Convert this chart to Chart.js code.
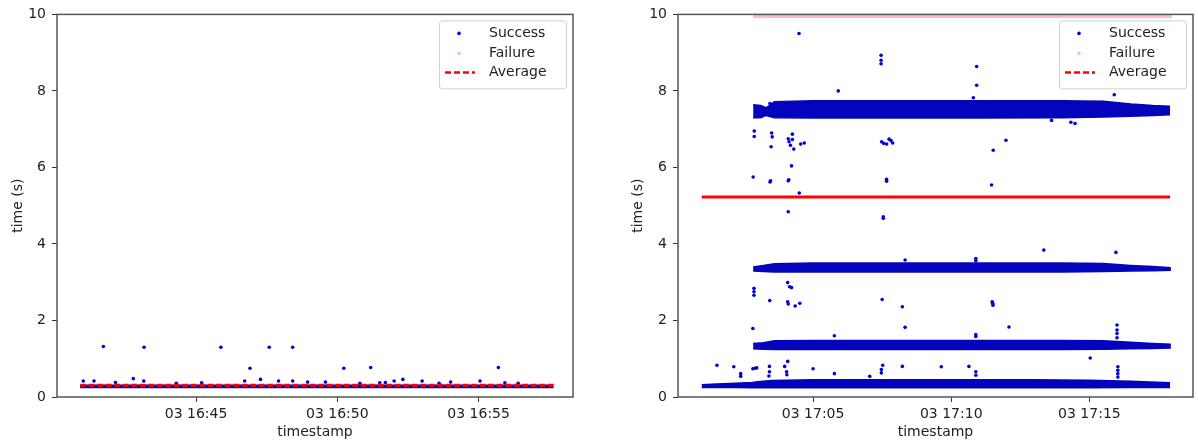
<!DOCTYPE html>
<html>
<head>
<meta charset="utf-8">
<script src="https://cdn.jsdelivr.net/npm/chart.js@4.4.1/dist/chart.umd.min.js"></script>
<style>
  body { margin: 0; background: #fff; }
  #wrap { position: relative; width: 1198px; height: 444px; }
  canvas { position: absolute; top: 0; }
</style>
</head>
<body>
<div id="wrap">
  <canvas id="leftChart" width="600" height="444" style="left:0"></canvas>
  <canvas id="rightChart" width="598" height="444" style="left:600px"></canvas>
</div>
<script>
// y axis (seconds)
const yTicks = [0, 2, 4, 6, 8, 10]

// ---- left panel, x in minutes after 16:00 ----
const leftTicks = [45, 50, 55]
const leftTickLabels = ['03 16:45', '03 16:50', '03 16:55']
const leftBandTime = [40.9, 57.65]
const leftBandLow = [0.25, 0.25]
const leftBandHigh = [0.31, 0.31]
const leftAvgTime = [40.9, 57.65]
const leftAvgValue = [0.31, 0.31]
const leftOutTime = [41.72, 43.16, 45.88, 47.59, 48.42, 46.91, 50.23, 51.18, 55.70,
                     41.01, 41.39, 42.78, 43.15, 47.28, 47.92, 48.42, 52.32, 53.00, 55.05, 46.72,
                     42.15, 48.95, 49.58, 52.01, 54.01, 55.93, 44.30, 45.20, 50.80, 51.50, 51.70, 53.60, 56.40]
const leftOutValue = [1.32, 1.30, 1.30, 1.30, 1.30, 0.75, 0.75, 0.77, 0.77,
                      0.42, 0.42, 0.48, 0.42, 0.46, 0.42, 0.42, 0.46, 0.42, 0.42, 0.42,
                      0.38, 0.39, 0.39, 0.42, 0.39, 0.37, 0.36, 0.37, 0.36, 0.37, 0.38, 0.36, 0.36]

// ---- right panel, x in minutes after 17:00 ----
const rightTicks = [5, 10, 15]
const rightTickLabels = ['03 17:05', '03 17:10', '03 17:15']

// dense clouds of successes, given as lower / upper edge
const bandATime = [0.97, 1.5, 2.2, 2.8, 3.0, 3.5, 5, 7, 9, 11, 13, 15, 16.5, 17.2, 17.92]
const bandALow = [0.25, 0.25, 0.25, 0.24, 0.24, 0.24, 0.24, 0.24, 0.24, 0.24, 0.24, 0.24, 0.25, 0.25, 0.25]
const bandAHigh = [0.32, 0.34, 0.36, 0.38, 0.40, 0.43, 0.45, 0.45, 0.45, 0.45, 0.45, 0.44, 0.41, 0.39, 0.37]

const bandBTime = [2.83, 3.2, 3.6, 5, 8, 11, 14, 15.5, 16.5, 17.3, 17.95]
const bandBLow = [1.26, 1.25, 1.24, 1.24, 1.24, 1.24, 1.24, 1.25, 1.26, 1.27, 1.28]
const bandBHigh = [1.40, 1.42, 1.47, 1.48, 1.48, 1.48, 1.48, 1.47, 1.43, 1.40, 1.38]

const bandCTime = [2.83, 3.2, 3.6, 5, 8, 11, 14, 15.5, 16.5, 17.3, 17.95]
const bandCLow = [3.29, 3.28, 3.27, 3.27, 3.27, 3.27, 3.27, 3.28, 3.29, 3.30, 3.31]
const bandCHigh = [3.40, 3.44, 3.48, 3.50, 3.50, 3.50, 3.50, 3.49, 3.44, 3.41, 3.38]

const bandDTime = [2.83, 3.1, 3.3, 3.6, 5, 8, 11, 14, 15.5, 16.5, 17.3, 17.92]
const bandDLow = [7.30, 7.30, 7.36, 7.30, 7.29, 7.29, 7.29, 7.30, 7.32, 7.34, 7.36, 7.38]
const bandDHigh = [7.64, 7.62, 7.56, 7.72, 7.74, 7.74, 7.74, 7.74, 7.73, 7.66, 7.62, 7.60]

// scattered successes
const highOutTime = [4.49, 7.46, 7.46, 7.46, 5.91, 10.92, 10.92, 10.80, 15.90, 13.63, 14.33, 14.48, 3.44,
                     2.87, 2.87, 3.50, 3.52, 3.48, 4.10, 4.13, 4.18, 4.25, 4.25, 4.30, 4.55, 4.68,
                     7.48, 7.55, 7.66, 7.75, 7.82, 7.88, 11.52, 11.98,
                     2.83, 3.44, 3.46, 4.10, 4.12, 4.22, 4.50, 7.66, 7.66, 11.46, 4.10, 7.54, 7.54]
const highOutValue = [9.50, 8.93, 8.80, 8.71, 8.00, 8.64, 8.15, 7.82, 7.90, 7.23, 7.18, 7.15, 7.67,
                      6.95, 6.81, 6.90, 6.80, 6.54, 6.75, 6.67, 6.58, 6.87, 6.73, 6.48, 6.61, 6.64,
                      6.67, 6.63, 6.61, 6.74, 6.70, 6.64, 6.45, 6.71,
                      5.75, 5.62, 5.65, 5.65, 5.68, 6.04, 5.33, 5.64, 5.69, 5.54, 4.84, 4.71, 4.67]
const lowOutTime = [2.86, 2.86, 2.86, 3.43, 4.08, 4.15, 4.22, 4.08, 4.10, 4.35, 4.52, 7.50, 8.23, 11.48, 11.51, 11.50,
                    8.33, 12.09, 2.82, 5.77, 10.89, 10.89, 16.00, 16.00, 16.00, 16.00, 15.03, 13.35, 15.96, 10.89, 10.89, 8.33,
                    1.52, 2.13, 2.82, 2.89, 2.96, 3.42, 3.42, 3.97, 4.08, 4.04, 5.00, 5.77, 7.52, 8.23, 9.64, 10.64,
                    7.47, 7.47, 2.38, 2.38, 16.03, 16.03, 16.03, 10.89, 10.89, 7.05, 3.40, 4.05, 16.03]
const lowOutValue = [2.84, 2.75, 2.66, 2.52, 2.99, 2.88, 2.86, 2.49, 2.43, 2.38, 2.45, 2.55, 2.36, 2.49, 2.40, 2.45,
                     1.82, 1.83, 1.79, 1.60, 1.63, 1.58, 1.88, 1.75, 1.66, 1.55, 1.02, 3.84, 3.78, 3.62, 3.56, 3.58,
                     0.83, 0.79, 0.74, 0.75, 0.76, 0.80, 0.66, 0.80, 0.93, 0.66, 0.74, 0.61, 0.83, 0.80, 0.79, 0.80,
                     0.72, 0.63, 0.61, 0.54, 0.79, 0.70, 0.61, 0.66, 0.57, 0.54, 0.55, 0.58, 0.52]

const failTime = [2.83, 17.98]
const failValue = [10, 10]
const rightAvgTime = [0.97, 17.92]
const rightAvgValue = [5.23, 5.23]

const BLUE = '#0000d8'
const BAND = '#0404bd'
const PINK = '#ffbcc6'
const RED = '#ff0000'

Chart.defaults.font.family = "'DejaVu Sans', sans-serif"
Chart.defaults.font.size = 14
Chart.defaults.color = '#222'

function pts(xs, ys) {
    return xs.map((x, i) => ({ x: x, y: ys[i] }))
}

function band(xs, lo, hi) {
    return [
        { data: pts(xs, hi), borderColor: BAND, borderWidth: 1.5, pointRadius: 0, fill: false, order: 5 },
        { data: pts(xs, lo), borderColor: BAND, borderWidth: 1.5, pointRadius: 0, backgroundColor: BAND, fill: '-1', order: 5 }
    ]
}

function dots(xs, ys, color) {
    return { data: pts(xs, ys), showLine: false, pointRadius: 1.8, pointBorderWidth: 0,
             pointBackgroundColor: color, order: 4 }
}

const framePlugin = {
    id: 'frame',
    afterDatasetsDraw(chart) {
        const { ctx, chartArea: a } = chart
        ctx.save()
        ctx.strokeStyle = '#555'
        ctx.lineWidth = 1.5
        ctx.strokeRect(a.left, a.top, a.right - a.left, a.bottom - a.top)
        ctx.restore()
    }
}

// matplotlib style legend box in the upper right corner
const boxLegend = {
    id: 'boxLegend',
    afterDraw(chart) {
        const { ctx, chartArea: a } = chart
        const w = 127, h = 68
        const left = a.right - 7 - w, top = a.top + 6
        ctx.save()
        ctx.fillStyle = 'rgba(255,255,255,0.85)'
        ctx.strokeStyle = '#d0d0d0'
        ctx.lineWidth = 1
        ctx.beginPath()
        ctx.roundRect(left + 0.5, top + 0.5, w, h, 3)
        ctx.fill()
        ctx.stroke()

        const rows = [top + 13, top + 33, top + 52]
        const mx = left + 20
        ctx.fillStyle = BLUE
        ctx.beginPath(); ctx.arc(mx, rows[0], 1.8, 0, Math.PI * 2); ctx.fill()
        ctx.fillStyle = PINK
        ctx.beginPath(); ctx.arc(mx, rows[1], 1.8, 0, Math.PI * 2); ctx.fill()
        ctx.strokeStyle = RED
        ctx.lineWidth = 2.5
        ctx.setLineDash([6, 3])
        ctx.beginPath(); ctx.moveTo(left + 6, rows[2]); ctx.lineTo(left + 36, rows[2]); ctx.stroke()
        ctx.setLineDash([])

        ctx.fillStyle = '#222'
        ctx.font = "14px 'DejaVu Sans', sans-serif"
        ctx.textBaseline = 'middle'
        const tx = left + 50
        ctx.fillText('Success', tx, rows[0])
        ctx.fillText('Failure', tx, rows[1])
        ctx.fillText('Average', tx, rows[2])
        ctx.restore()
    }
}

function makeChart(id, cfg) {
    return new Chart(document.getElementById(id), {
        type: 'line',
        data: { datasets: cfg.datasets },
        options: {
            responsive: false,
            animation: false,
            devicePixelRatio: 1,
            layout: { padding: { top: 13, right: cfg.padRight, left: 0, bottom: 0 } },
            plugins: { legend: { display: false }, tooltip: { enabled: false } },
            scales: {
                x: {
                    type: 'linear',
                    min: cfg.xMin,
                    max: cfg.xMax,
                    afterBuildTicks: s => { s.ticks = cfg.ticks.map(v => ({ value: v })) },
                    afterFit: s => { s.height = 47 },
                    ticks: {
                        autoSkip: false, maxRotation: 0, padding: 4, color: '#222',
                        callback: v => cfg.tickLabels[cfg.ticks.indexOf(v)]
                    },
                    grid: { drawOnChartArea: false, tickLength: 5, tickColor: '#333' },
                    border: { display: false },
                    title: { display: true, text: 'timestamp', padding: { top: 0, bottom: 3 }, color: '#222' }
                },
                y: {
                    min: 0,
                    max: 10,
                    afterBuildTicks: s => { s.ticks = yTicks.map(v => ({ value: v })) },
                    afterFit: s => { s.width = cfg.yWidth },
                    ticks: { padding: 6, color: '#222' },
                    grid: { drawOnChartArea: false, tickLength: 5, tickColor: '#333' },
                    border: { display: false },
                    title: { display: true, text: 'time (s)', padding: { top: cfg.yTitlePad, bottom: 0 }, color: '#222' }
                }
            }
        },
        plugins: [framePlugin, boxLegend]
    })
}

makeChart('leftChart', {
    xMin: 40.08, xMax: 58.34, ticks: leftTicks, tickLabels: leftTickLabels,
    padRight: 27, yWidth: 57, yTitlePad: 10,
    datasets: [
        { data: pts(leftAvgTime, leftAvgValue), borderColor: RED, borderWidth: 3, borderDash: [6, 2.5], pointRadius: 0, order: 1 },
        ...band(leftBandTime, leftBandLow, leftBandHigh),
        dots(leftOutTime, leftOutValue, BLUE)
    ]
})

makeChart('rightChart', {
    xMin: 0.11, xMax: 18.75, ticks: rightTicks, tickLabels: rightTickLabels,
    padRight: 5, yWidth: 78, yTitlePad: 30,
    datasets: [
        { data: pts(rightAvgTime, rightAvgValue), borderColor: RED, borderWidth: 3, pointRadius: 0, order: 1 },
        { data: pts(failTime, failValue), borderColor: PINK, borderWidth: 7, pointRadius: 0, clip: 0, order: 2 },
        ...band(bandATime, bandALow, bandAHigh),
        ...band(bandBTime, bandBLow, bandBHigh),
        ...band(bandCTime, bandCLow, bandCHigh),
        ...band(bandDTime, bandDLow, bandDHigh),
        dots(highOutTime, highOutValue, BLUE),
        dots(lowOutTime, lowOutValue, BLUE)
    ]
})
</script>
</body>
</html>
